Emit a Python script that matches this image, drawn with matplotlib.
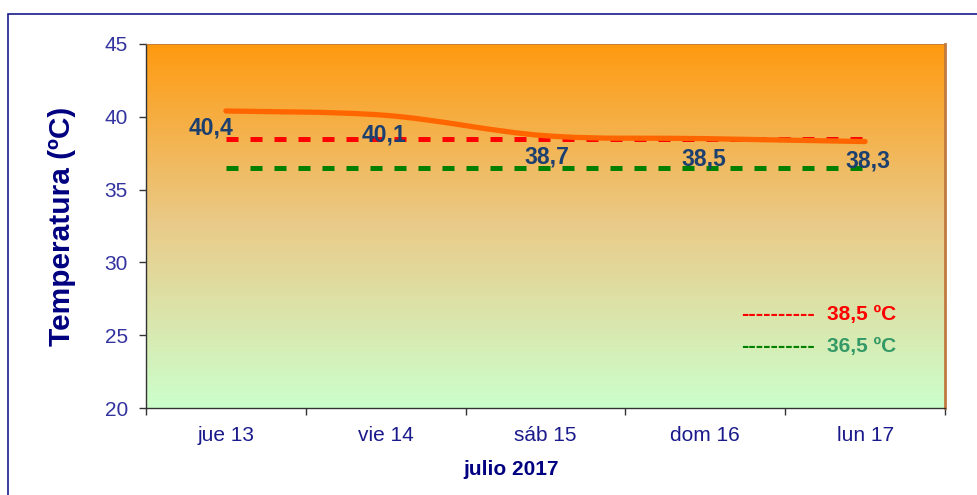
import numpy as np
import matplotlib.pyplot as plt
from matplotlib.path import Path
from matplotlib.patches import PathPatch, Rectangle
from matplotlib.colors import LinearSegmentedColormap

plt.rcParams['font.family'] = ['Liberation Sans', 'DejaVu Sans']

# Data
days = ["jue 13", "vie 14", "sáb 15", "dom 16", "lun 17"]
temps = [40.4, 40.1, 38.7, 38.5, 38.3]
temp_labels = ["40,4", "40,1", "38,7", "38,5", "38,3"]
limit_high = 38.5
limit_low = 36.5

fig = plt.figure(figsize=(9.78, 4.95), dpi=100)
ax = fig.add_axes([146 / 978, 1 - 408 / 495, 799 / 978, 364 / 495])

# outer border of the chart
fig.patches.append(Rectangle((8 / 978, -0.05), 1.05, 1 - 14 / 495 + 0.05,
                             transform=fig.transFigure, fill=False,
                             edgecolor="#1A1A8C", linewidth=1.2, clip_on=False))

x = np.arange(len(days))
ax.set_xlim(-0.5, len(days) - 0.5)
ax.set_ylim(20, 45)

# gradient background, orange at top to pale green at bottom
cmap = LinearSegmentedColormap.from_list("bg", ["#CCFFCC", "#E9CB8A", "#FF9A10"])
grad = np.linspace(0, 1, 256).reshape(-1, 1)
ax.imshow(grad, cmap=cmap, aspect="auto", origin="lower",
          extent=[-0.5, len(days) - 0.5, 20, 45], zorder=0)

# reference lines
ax.plot([x[0], x[-1]], [limit_high] * 2, color="#FF0000", linewidth=3.6,
        dashes=(2.4, 2.4), zorder=2)
ax.plot([x[0], x[-1]], [limit_low] * 2, color="#008000", linewidth=3.6,
        dashes=(2.4, 2.4), zorder=2)

# smoothed temperature line (bezier through the points)
pts = np.column_stack([x, temps]).astype(float)
verts = [pts[0]]
codes = [Path.MOVETO]
for i in range(len(pts) - 1):
    p0 = pts[i - 1] if i > 0 else pts[i]
    p1 = pts[i]
    p2 = pts[i + 1]
    p3 = pts[i + 2] if i + 2 < len(pts) else pts[i + 1]
    c1 = p1 + (p2 - p0) / 6
    c2 = p2 - (p3 - p1) / 6
    verts += [c1, c2, p2]
    codes += [Path.CURVE4] * 3
ax.add_patch(PathPatch(Path(verts, codes), facecolor="none", edgecolor="#FF6600",
                       linewidth=3.8, capstyle="round", joinstyle="round", zorder=3))

# data labels
label_offsets = [(-11, -12), (-1, -14), (1, -15), (-1, -15), (2, -14)]
for xi, yi, lab, off in zip(x, temps, temp_labels, label_offsets):
    ax.annotate(lab, (xi, yi), xytext=off, textcoords="offset points",
                ha="center", va="center", fontsize=16.5, fontweight="bold",
                color="#1B3F6E", zorder=4)

# legend-like text
ax.text(0.745, 0.258, "----------", transform=ax.transAxes, color="#FF0000",
        fontsize=16, fontweight="bold", ha="left", va="center")
ax.text(0.852, 0.258, "38,5 ºC", transform=ax.transAxes, color="#FF0000",
        fontsize=15, fontweight="bold", ha="left", va="center")
ax.text(0.745, 0.168, "----------", transform=ax.transAxes, color="#008000",
        fontsize=16, fontweight="bold", ha="left", va="center")
ax.text(0.852, 0.168, "36,5 ºC", transform=ax.transAxes, color="#339966",
        fontsize=15, fontweight="bold", ha="left", va="center")

# axes styling
ax.set_yticks(range(20, 46, 5))
ax.tick_params(axis="y", colors="#333333", labelcolor="#3333A0", labelsize=15,
               length=5, width=1, pad=8)
ax.set_xticks(np.arange(-0.5, len(days), 1.0))
ax.set_xticklabels([])
ax.set_xticks(x, minor=True)
ax.set_xticklabels(days, minor=True)
ax.tick_params(axis="x", which="major", length=5, width=1, color="#333333")
ax.tick_params(axis="x", which="minor", length=0, labelsize=15,
               labelcolor="#1A1A8C", pad=13)

for side in ["left", "bottom"]:
    ax.spines[side].set_color("#333333")
    ax.spines[side].set_linewidth(1)
ax.spines["right"].set_color("#C07A40")
ax.spines["right"].set_linewidth(2)
ax.spines["top"].set_color("#C07A40")
ax.spines["top"].set_linewidth(0.6)

ax.set_ylabel("Temperatura (ºC)", fontsize=21.5, fontweight="bold",
              color="#000080")
ax.yaxis.set_label_coords(-0.088, 0.5)
ax.set_xlabel("julio 2017", fontsize=15, fontweight="bold", color="#000080")
ax.xaxis.set_label_coords(0.457, -0.142)

fig.savefig("out.png", dpi=100)
